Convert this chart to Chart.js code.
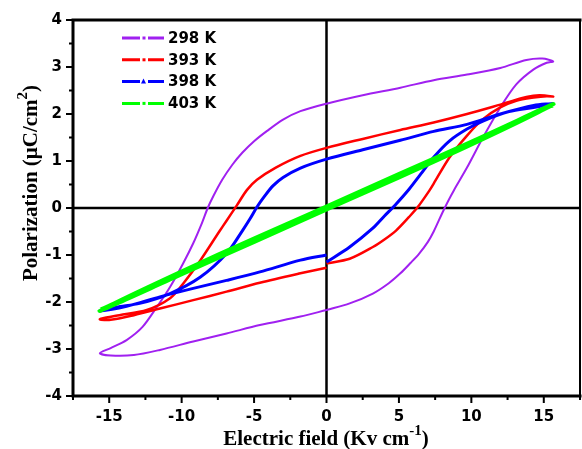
<!DOCTYPE html>
<html><head><meta charset="utf-8">
<script src="https://cdn.jsdelivr.net/npm/chart.js@4.4.0/dist/chart.umd.min.js"></script>
<style>html,body{margin:0;padding:0;background:#fff;}canvas{display:block}</style>
</head><body>
<canvas id="c" width="582" height="449"></canvas>
<script>
// ---- data ----
const seriesLabels = ['298 K', '393 K', '398 K', '403 K'];
const seriesColors = ['#a020f0', '#ff0000', '#0000ff', '#00ff00'];

const E298 = [0, 1.6, 3.2, 4.3, 5.1, 5.8, 6.4, 7.0, 7.4, 8.0, 8.4, 8.8, 9.7, 10.8, 12.0, 13.1, 14.3, 15.2, 15.65, 14.9, 13.8, 12.0, 9.7, 7.4, 5.1, 2.5, 0, -1.8, -3.0, -4.1, -5.0, -5.8, -6.5, -7.2, -7.8, -8.2, -8.6, -9.2, -9.9, -10.8, -11.7, -12.7, -13.8, -14.9, -15.65, -14.9, -13.3, -11.5, -9.2, -6.9, -4.6, -1.8, 0];
const P298 = [-2.17, -2.03, -1.82, -1.6, -1.39, -1.17, -0.97, -0.72, -0.5, -0.1, 0.15, 0.38, 0.86, 1.5, 2.14, 2.63, 2.95, 3.09, 3.12, 3.18, 3.15, 2.98, 2.84, 2.72, 2.56, 2.4, 2.22, 2.06, 1.88, 1.64, 1.42, 1.18, 0.92, 0.6, 0.26, 0.0, -0.32, -0.75, -1.18, -1.68, -2.1, -2.53, -2.81, -2.98, -3.09, -3.14, -3.13, -3.02, -2.84, -2.67, -2.49, -2.31, -2.17];

const E393 = [0, 1.6, 3.2, 4.0, 4.8, 5.7, 6.3, 7.1, 7.4, 8.5, 9.7, 10.8, 12.0, 13.1, 14.3, 15.2, 15.65, 14.7, 13.8, 12.0, 9.7, 7.4, 5.1, 2.5, 0, -1.8, -3.5, -4.8, -5.5, -6.2, -6.9, -7.4, -8.7, -9.9, -10.8, -12.4, -14.3, -15.2, -15.65, -14.9, -13.3, -11.5, -9.2, -6.9, -4.6, -1.8, 0];
const P393 = [-1.18, -1.08, -0.83, -0.67, -0.48, -0.19, 0.02, 0.37, 0.52, 1.08, 1.54, 1.89, 2.14, 2.28, 2.35, 2.38, 2.37, 2.40, 2.36, 2.20, 2.0, 1.82, 1.66, 1.47, 1.28, 1.11, 0.86, 0.6, 0.38, 0.05, -0.27, -0.5, -1.11, -1.61, -1.92, -2.17, -2.28, -2.33, -2.37, -2.38, -2.28, -2.14, -1.96, -1.78, -1.59, -1.39, -1.27];

const E398 = [0, 1.6, 3.2, 4.0, 4.7, 5.7, 6.5, 7.4, 8.5, 9.7, 10.8, 12.6, 14.3, 15.65, 14.3, 12.0, 9.7, 7.4, 5.1, 2.5, 0, -1.8, -3.0, -3.7, -4.3, -4.8, -5.3, -5.8, -6.9, -8.7, -10.8, -12.9, -14.5, -15.65, -13.8, -11.5, -9.2, -6.9, -4.6, -1.8, 0];
const P398 = [-1.15, -0.83, -0.43, -0.17, 0.05, 0.4, 0.72, 1.08, 1.43, 1.68, 1.85, 2.05, 2.14, 2.22, 2.18, 2.0, 1.78, 1.63, 1.44, 1.24, 1.04, 0.85, 0.65, 0.47, 0.24, 0.02, -0.24, -0.48, -0.97, -1.47, -1.82, -2.03, -2.11, -2.19, -2.09, -1.89, -1.71, -1.54, -1.36, -1.11, -1.0];

const E403 = [0, 5, 10, 15.65, 10, 5, 0, -5, -10, -15.65, -10, -5, 0];
const P403 = [-0.02, 0.66, 1.36, 2.2, 1.4, 0.71, 0.02, -0.66, -1.36, -2.18, -1.4, -0.71, -0.02];

const xTickValues = [-15, -10, -5, 0, 5, 10, 15];
const xMinorValues = [-17.5, -12.5, -7.5, -2.5, 2.5, 7.5, 12.5, 17.5];
const yTickValues = [-4, -3, -2, -1, 0, 1, 2, 3, 4];
const yMinorValues = [-3.5, -2.5, -1.5, -0.5, 0.5, 1.5, 2.5, 3.5];

const xTitleRuns = [['Electric field (Kv cm', 0], ['-1', 1], [')', 0]];
const yTitleRuns = [['Polarization (\u03BCC/cm', 0], ['2', 1], [')', 0]];

// ---- build ----
const toPts = (E, P) => E.map((e, i) => ({x: e, y: P[i]}));
const seriesE = [E298, E393, E398, E403];
const seriesP = [P298, P393, P398, P403];
const widths = [2, 2.5, 3, 5];

const datasets = seriesLabels.map((lab, i) => ({
  label: lab,
  data: toPts(seriesE[i], seriesP[i]),
  showLine: true,
  borderColor: seriesColors[i],
  backgroundColor: seriesColors[i],
  borderWidth: widths[i],
  pointRadius: 0,
  tension: 0.3,
  fill: false,
  order: 4 - i
}));

const framePlugin = {
  id: 'frame',
  beforeDatasetsDraw(chart) {
    const {ctx, chartArea: a, scales: {x, y}} = chart;
    ctx.save();
    ctx.strokeStyle = '#000';
    ctx.lineWidth = 2.5;
    const x0 = x.getPixelForValue(0), y0 = y.getPixelForValue(0);
    ctx.beginPath();
    ctx.moveTo(x0, a.top); ctx.lineTo(x0, a.bottom);
    ctx.moveTo(a.left, y0); ctx.lineTo(a.right, y0);
    ctx.stroke();
    ctx.restore();
  },
  afterDatasetsDraw(chart) {
    const {ctx, chartArea: a, scales: {x, y}} = chart;
    ctx.save();
    ctx.strokeStyle = '#000';
    ctx.lineCap = 'square';
    ctx.lineWidth = 3;
    ctx.beginPath();
    ctx.moveTo(a.left, a.top); ctx.lineTo(a.left, a.bottom); ctx.lineTo(a.right, a.bottom);
    ctx.moveTo(a.left, a.top); ctx.lineTo(a.right, a.top);
    ctx.stroke();
    ctx.lineWidth = 2;
    ctx.beginPath();
    ctx.moveTo(a.right, a.top); ctx.lineTo(a.right, a.bottom);
    ctx.stroke();
    ctx.lineCap = 'butt';
    ctx.lineWidth = 2;
    ctx.beginPath();
    xTickValues.forEach(v => { const p = x.getPixelForValue(v); ctx.moveTo(p, a.bottom); ctx.lineTo(p, a.bottom + 7); });
    xMinorValues.forEach(v => { const p = x.getPixelForValue(v); ctx.moveTo(p, a.bottom); ctx.lineTo(p, a.bottom + 4); });
    yTickValues.forEach(v => { const p = y.getPixelForValue(v); ctx.moveTo(a.left, p); ctx.lineTo(a.left - 7, p); });
    yMinorValues.forEach(v => { const p = y.getPixelForValue(v); ctx.moveTo(a.left, p); ctx.lineTo(a.left - 4, p); });
    ctx.stroke();
    ctx.restore();
  }
};

const legendPlugin = {
  id: 'innerLegend',
  afterDraw(chart) {
    const ctx = chart.ctx;
    ctx.save();
    chart.data.datasets.forEach((ds, i) => {
      const yy = 38 + i * 21.8;
      ctx.strokeStyle = ds.borderColor;
      ctx.fillStyle = ds.borderColor;
      ctx.lineWidth = 3;
      ctx.beginPath();
      ctx.moveTo(122, yy); ctx.lineTo(140, yy);
      ctx.moveTo(148, yy); ctx.lineTo(164, yy);
      ctx.stroke();
      if (i === 2) {
        ctx.beginPath();
        ctx.moveTo(141, yy + 2); ctx.lineTo(146, yy + 2); ctx.lineTo(143.5, yy - 3); ctx.closePath(); ctx.fill();
      } else {
        ctx.fillRect(142.5, yy - 1.5, 3, 3);
      }
      ctx.fillStyle = '#000';
      ctx.font = 'bold 15px "DejaVu Sans"';
      ctx.textBaseline = 'middle';
      ctx.textAlign = 'left';
      ctx.fillText(ds.label, 168, yy + 1);
    });
    ctx.restore();
  }
};

function drawRuns(ctx, runs, cx, base) {
  const main = 'bold 21px "Liberation Serif"', sup = 'bold 15px "Liberation Serif"';
  let total = 0;
  runs.forEach(r => { ctx.font = r[1] ? sup : main; total += ctx.measureText(r[0]).width; });
  let xx = cx - total / 2;
  ctx.textAlign = 'left';
  ctx.textBaseline = 'alphabetic';
  runs.forEach(r => {
    ctx.font = r[1] ? sup : main;
    ctx.fillText(r[0], xx, base - (r[1] ? 10 : 0));
    xx += ctx.measureText(r[0]).width;
  });
}

const titlePlugin = {
  id: 'axisTitles',
  afterDraw(chart) {
    const ctx = chart.ctx;
    ctx.save();
    ctx.fillStyle = '#000';
    drawRuns(ctx, xTitleRuns, 326, 445);
    ctx.translate(37, 183);
    ctx.rotate(-Math.PI / 2);
    drawRuns(ctx, yTitleRuns, 0, 0);
    ctx.restore();
  }
};

const tickFont = {family: 'DejaVu Sans', weight: 'bold', size: 15};

new Chart(document.getElementById('c'), {
  type: 'scatter',
  data: {datasets},
  options: {
    responsive: false,
    animation: false,
    devicePixelRatio: 1,
    layout: {padding: {left: 0, top: 19, right: 2, bottom: 0}},
    plugins: {legend: {display: false}, tooltip: {enabled: false}},
    scales: {
      x: {
        type: 'linear', min: -17.5, max: 17.5,
        grid: {display: false, drawTicks: false},
        border: {display: false},
        afterBuildTicks: s => { s.ticks = xTickValues.map(v => ({value: v})); },
        afterFit: s => { s.height = 53; },
        ticks: {font: tickFont, color: '#000', padding: 12, maxRotation: 0, autoSkip: false, callback: v => String(v)}
      },
      y: {
        type: 'linear', min: -4, max: 4,
        grid: {display: false, drawTicks: false},
        border: {display: false},
        afterBuildTicks: s => { s.ticks = yTickValues.map(v => ({value: v})); },
        afterFit: s => { s.width = 73; },
        ticks: {font: tickFont, color: '#000', padding: 11, autoSkip: false, callback: v => String(v)}
      }
    }
  },
  plugins: [framePlugin, legendPlugin, titlePlugin]
});
</script>
</body></html>
